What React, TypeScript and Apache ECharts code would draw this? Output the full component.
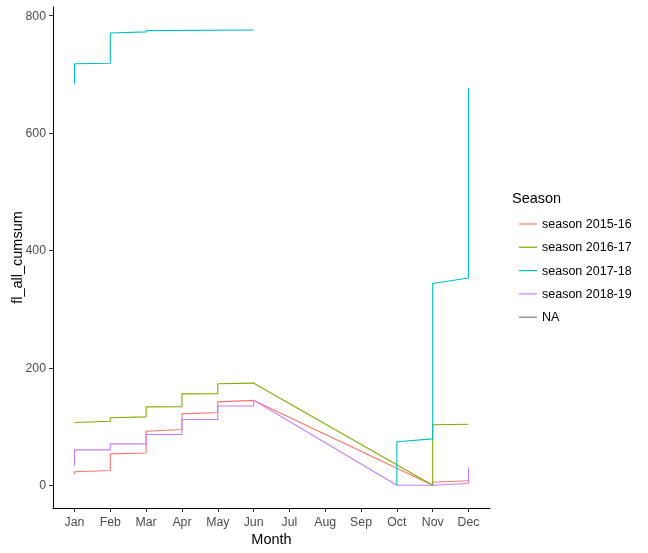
import React, { useEffect, useRef } from "react";
import * as echarts from "echarts";

const months = ["Jan", "Feb", "Mar", "Apr", "May", "Jun", "Jul", "Aug", "Sep", "Oct", "Nov", "Dec"];
const yTicks = [0, 200, 400, 600, 800];

const season201516: [number, number][] = [
  [0, 19], [0, 23], [1, 25], [1, 53.5], [2, 55], [2, 92], [3, 95], [3, 121.5],
  [4, 124], [4, 142], [5, 144.5], [10, 0], [10, 5], [11, 7.5],
];
const season201617: [number, number][] = [
  [0, 107], [0, 108], [1, 109], [1, 115], [2, 116.5], [2, 133.5], [3, 134], [3, 155.7],
  [4, 156], [4, 173], [5, 174], [10, 0], [10, 103], [11, 104],
];
const season201718a: [number, number][] = [
  [0, 684], [0, 718], [1, 719], [1, 770.5], [2, 772.5], [2, 774.5], [5, 775.5], [5, 776.5],
];
const season201718b: [number, number][] = [
  [9, 0], [9, 74], [10, 79], [10, 343.6], [11, 353], [11, 677],
];
const season201819: [number, number][] = [
  [0, 33.6], [0, 60.3], [1, 60.3], [1, 70.5], [2, 70.5], [2, 86.4], [3, 86.4], [3, 112],
  [4, 112], [4, 135], [5, 135], [5, 145], [9, 0], [10, 0], [10, 1], [11, 3], [11, 30],
];
const seasonNA: [number, number][] = [];

const seasonNames = ["season 2015-16", "season 2016-17", "season 2017-18", "season 2018-19", "NA"];
const colors = ["#F8766D", "#7CAE00", "#00BFC4", "#C77CFF", "#7F7F7F"];

const FONT = "Liberation Sans, Arial, sans-serif";

export default function App() {
  const ref = useRef<HTMLDivElement>(null);
  useEffect(() => {
    if (!ref.current) return;
    const chart = echarts.init(ref.current, undefined, { renderer: "svg" });
    const mk = (name: string, data: [number, number][], color: string) => ({
      type: "line",
      name,
      data,
      symbol: "none",
      showSymbol: false,
      color,
      lineStyle: { color, width: 1.1 },
      emphasis: { disabled: true },
    });
    chart.setOption({
      animation: false,
      textStyle: { fontFamily: FONT },
      grid: { left: 53, right: 158, top: 7, bottom: 45, containLabel: false, outerBoundsMode: "none" },
      xAxis: {
        type: "value",
        min: -0.6,
        max: 11.6,
        name: "Month",
        nameLocation: "middle",
        nameGap: 23,
        nameMoveOverlap: false,
        nameTextStyle: { color: "#000", fontSize: 14.5, fontFamily: FONT },
        axisLine: { show: true, onZero: false, lineStyle: { color: "#000", width: 1 } },
        axisTick: { show: true, length: 4, lineStyle: { color: "#333" }, customValues: months.map((_, i) => i) },
        axisLabel: {
          color: "#4D4D4D",
          fontSize: 12.3,
          margin: 8,
          customValues: months.map((_, i) => i),
          formatter: (v: number) => months[Math.round(v)] ?? "",
        },
        splitLine: { show: false },
      },
      yAxis: {
        type: "value",
        min: -38.8,
        max: 814.8,
        name: "fl_all_cumsum",
        nameLocation: "middle",
        nameGap: 29,
        nameMoveOverlap: false,
        nameRotate: 90,
        nameTextStyle: { color: "#000", fontSize: 14.5, fontFamily: FONT },
        axisLine: { show: true, onZero: false, lineStyle: { color: "#000", width: 1 } },
        axisTick: { show: true, length: 4, lineStyle: { color: "#333" }, customValues: yTicks },
        axisLabel: { color: "#4D4D4D", fontSize: 12.3, margin: 7, customValues: yTicks },
        splitLine: { show: false },
      },
      legend: {
        orient: "vertical",
        left: 514,
        top: 212,
        icon: "rect",
        itemWidth: 18,
        itemHeight: 1.2,
        itemGap: 9.3,
        data: seasonNames,
        textStyle: { color: "#000", fontSize: 12.5, lineHeight: 14, fontFamily: FONT, padding: [0, 0, 0, 0] },
      },
      graphic: [
        {
          type: "text",
          left: 512,
          top: 190,
          style: { text: "Season", fontSize: 14.5, fill: "#000", fontFamily: FONT },
        },
      ],
      series: [
        mk(seasonNames[0], season201516, colors[0]),
        mk(seasonNames[1], season201617, colors[1]),
        mk(seasonNames[2], season201718a, colors[2]),
        mk(seasonNames[2], season201718b, colors[2]),
        mk(seasonNames[3], season201819, colors[3]),
        mk(seasonNames[4], seasonNA, colors[4]),
      ],
    });
    return () => chart.dispose();
  }, []);
  return <div ref={ref} style={{ position: "fixed", left: 0, top: 0, width: 648, height: 553 }} />;
}
